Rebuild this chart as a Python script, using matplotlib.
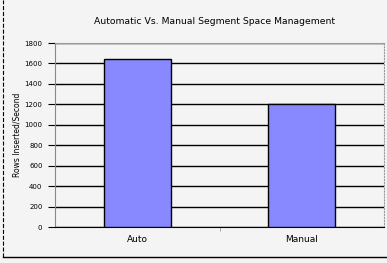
import matplotlib.pyplot as plt
import numpy as np

categories = ["Auto", "Manual"]
rows_per_sec = [1640, 1200]
yticks = [0, 200, 400, 600, 800, 1000, 1200, 1400, 1600, 1800]

fig = plt.figure(figsize=(3.87, 2.63), dpi=100)
fig.patch.set_facecolor("#f4f4f4")
ax = fig.add_axes([55/387, 1 - 227/263, 329/387, 184/263])
ax.set_facecolor("#f4f4f4")

x = np.arange(len(categories))
ax.bar(x, rows_per_sec, width=0.41, color="#8888ff", edgecolor="black", linewidth=1, zorder=3)
ax.set_xlim(-0.5, 1.5)
ax.set_ylim(0, 1800)
ax.set_yticks(yticks)
ax.set_yticklabels([str(v) for v in yticks], fontsize=5)
ax.set_xticks(x)
ax.set_xticklabels(categories, fontsize=6.5)
ax.set_xticks([0.5], minor=True)
ax.tick_params(axis="x", which="major", length=0, pad=6)
ax.tick_params(axis="x", which="minor", length=3, color="#999999", direction="out")
ax.tick_params(axis="y", length=5, width=0.8, pad=4, direction="out")
ax.yaxis.grid(True, color="black", linewidth=1)
ax.set_axisbelow(True)

for side in ["top", "right"]:
    ax.spines[side].set_color("#999999")
ax.spines["right"].set_linestyle(":")
ax.spines["left"].set_color("#888888")
ax.spines["bottom"].set_color("black")

ax.set_ylabel("Rows Inserted/Second", fontsize=5.5)
ax.yaxis.set_label_coords((21 - 55) / 329, 0.5)
fig.text(0.553, 1 - 22/263, "Automatic Vs. Manual Segment Space Management",
         ha="center", va="center", fontsize=6.7)

# frame lines around the figure
fig.add_artist(plt.Line2D([3/387, 3/387], [6/263, 1], color="black", lw=0.8, ls="--"))
fig.add_artist(plt.Line2D([3/387, 1], [6/263, 6/263], color="black", lw=1))

fig.savefig("out.png", dpi=100, facecolor=fig.get_facecolor())
